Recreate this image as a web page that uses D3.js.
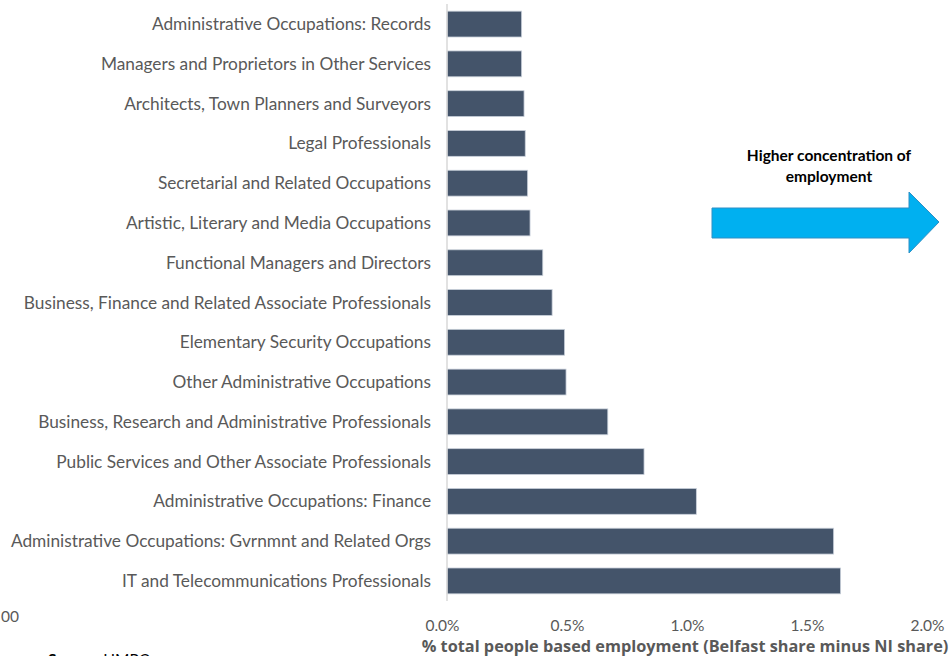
<!DOCTYPE html>
<html>
<head>
<meta charset="utf-8">
<style>
  body { margin: 0; background: #fff; }
  svg { display: block; }
  text { font-family: Lato, "Open Sans", sans-serif; }
</style>
</head>
<body>
<svg width="951" height="656"></svg>
<script src="https://cdn.jsdelivr.net/npm/d3@7"></script>
<script>
// occupations, top to bottom
var occupations = [
  "Administrative Occupations: Records",
  "Managers and Proprietors in Other Services",
  "Architects, Town Planners and Surveyors",
  "Legal Professionals",
  "Secretarial and Related Occupations",
  "Artistic, Literary and Media Occupations",
  "Functional Managers and Directors",
  "Business, Finance and Related Associate Professionals",
  "Elementary Security Occupations",
  "Other Administrative Occupations",
  "Business, Research and Administrative Professionals",
  "Public Services and Other Associate Professionals",
  "Administrative Occupations: Finance",
  "Administrative Occupations: Gvrnmnt and Related Orgs",
  "IT and Telecommunications Professionals"
];
// Belfast share minus NI share, in %
var shareDiff = [0.311, 0.311, 0.321, 0.326, 0.336, 0.346, 0.399, 0.438,
                 0.490, 0.496, 0.670, 0.821, 1.039, 1.611, 1.640];
var xTicks = [0, 0.5, 1.0, 1.5, 2.0];

var data = occupations.map(function (d, i) { return { name: d, value: shareDiff[i] }; });

var svg = d3.select("svg");
var x = d3.scaleLinear().domain([0, 2]).range([447, 927]);
var y = d3.scaleBand().domain(occupations).range([4, 601]).paddingInner(0.35).paddingOuter(0.18);

// bars
svg.append("g").selectAll("rect").data(data).enter().append("rect")
  .attr("x", x(0))
  .attr("y", function (d) { return y(d.name); })
  .attr("width", function (d) { return x(d.value) - x(0); })
  .attr("height", y.bandwidth())
  .attr("fill", "#44546a")
  .attr("stroke", "#c9d0da")
  .attr("stroke-width", 0.8);

// vertical axis line
svg.append("line")
  .attr("x1", x(0)).attr("x2", x(0))
  .attr("y1", 4).attr("y2", 601)
  .attr("stroke", "#d9d9d9").attr("stroke-width", 1.5);

// category labels
svg.append("g").selectAll("text").data(occupations).enter().append("text")
  .attr("x", 431)
  .attr("y", function (d) { return y(d) + y.bandwidth() / 2; })
  .attr("dy", "0.35em")
  .attr("text-anchor", "end")
  .attr("fill", "#595959")
  .style("font-size", "17.3px")
  .text(function (d) { return d; });

// x tick labels
var xAxis = svg.append("g").attr("transform", "translate(0,600)")
  .call(d3.axisBottom(x).tickValues(xTicks).tickFormat(d3.format(".1f")).tickSize(0).tickPadding(20));
xAxis.select(".domain").remove();
xAxis.selectAll("text")
  .text(function (d) { return d3.format(".1f")(d) + "%"; })
  .attr("fill", "#595959")
  .style("font-size", "15.5px")
  .style("font-family", "Lato, sans-serif");
xAxis.selectAll("text").filter(function (d) { return d === 0; }).attr("dx", "-5");

// axis title
svg.append("text")
  .attr("x", 685).attr("y", 652)
  .attr("text-anchor", "middle")
  .attr("fill", "#595959")
  .style("font-family", "'Open Sans', sans-serif")
  .style("font-size", "16.3px").style("font-weight", "bold")
  .text("% total people based employment (Belfast share minus NI share)");

// arrow annotation
svg.append("text").attr("x", 829).attr("y", 161).attr("text-anchor", "middle")
  .style("font-size", "15.5px").style("font-weight", "bold").attr("fill", "#000")
  .text("Higher concentration of");
svg.append("text").attr("x", 829).attr("y", 182).attr("text-anchor", "middle")
  .style("font-size", "15.5px").style("font-weight", "bold").attr("fill", "#000")
  .text("employment");
svg.append("path")
  .attr("d", "M712,208 L909,208 L909,192 L939,222 L909,253 L909,238 L712,238 Z")
  .attr("fill", "#00b0f0").attr("stroke", "#2e8fc4").attr("stroke-width", 1);

// cut-off fragments at the bottom left
svg.append("text").attr("x", 19).attr("y", 622).attr("text-anchor", "end")
  .attr("fill", "#595959").style("font-size", "15.5px").text("00");
var src = svg.append("text").attr("x", 48).attr("y", 665)
  .style("font-size", "15.5px").attr("fill", "#000");
src.append("tspan").style("font-weight", "bold").text("Source:");
src.append("tspan").text(" HMRC");
</script>
</body>
</html>
